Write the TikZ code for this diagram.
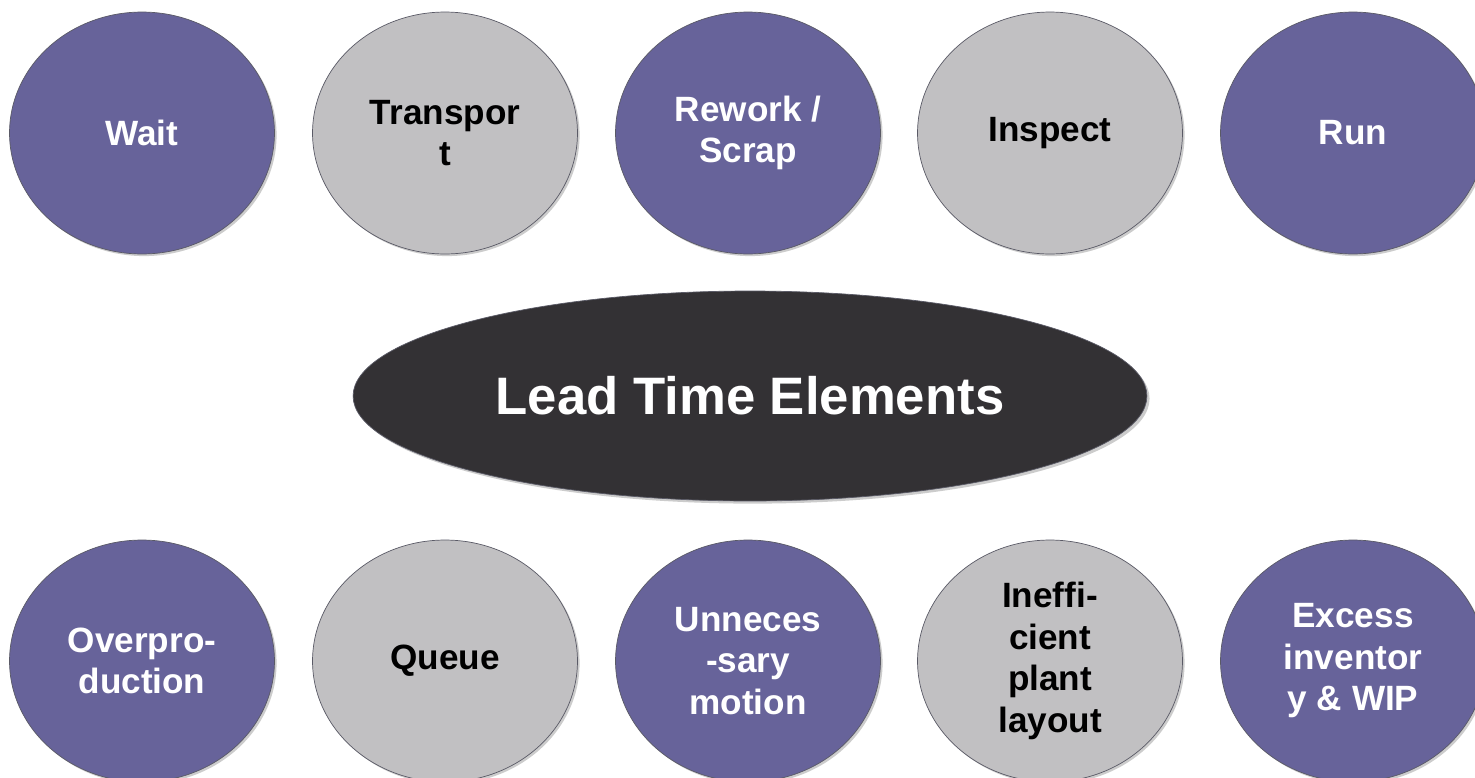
\documentclass[tikz,border=0pt]{standalone}
\usepackage{fontspec}
\setmainfont{Liberation Sans}
\usetikzlibrary{shapes.geometric,shadows}
\definecolor{purp}{HTML}{67639A}
\definecolor{grayc}{HTML}{C1C0C2}
\definecolor{darkc}{HTML}{333134}
\definecolor{edgec}{HTML}{5A5A66}
\tikzset{
  blob/.style={ellipse, draw=edgec, line width=0.4pt, minimum width=5.3cm, minimum height=4.84cm, inner sep=0pt, align=center,
    font=\bfseries\fontsize{20}{23.6}\selectfont,
    drop shadow={shadow xshift=1.2pt, shadow yshift=-1.2pt, opacity=0.4, fill=gray}},
  purpblob/.style={blob, fill=purp, text=white},
  grayblob/.style={blob, fill=grayc, text=black},
  centre/.style={ellipse, draw=edgec, line width=0.4pt, fill=darkc, text=white, minimum width=15.88cm, minimum height=4.2cm, inner sep=0pt,
    font=\bfseries\fontsize{30}{36}\selectfont,
    drop shadow={shadow xshift=1.5pt, shadow yshift=-1.5pt, opacity=0.4, fill=gray}}
}
\begin{document}
\begin{tikzpicture}[x=0.02cm,y=-0.02cm]
\useasboundingbox (0,0) rectangle (1475,778);
\clip (0,0) rectangle (1475,778);
\fill[white] (0,0) rectangle (1475,778);
\node[purpblob] (wait) at (142,133) {Wait};
\node[grayblob] (transport) at (445,133) {Transpor\\t};
\node[purpblob] (rework) at (748,133) {Rework /\\Scrap};
\node[grayblob] (inspect) at (1050,133) {Inspect};
\node[purpblob] (run) at (1353,133) {Run};
\node[centre] (lead) at (750,396) {Lead Time Elements};
\node[purpblob] (over) at (142,661) {Overpro-\\duction};
\node[grayblob] (queue) at (445,661) {Queue};
\node[purpblob] (motion) at (748,661) {Unneces\\-sary\\motion};
\node[grayblob] (layout) at (1050,661) {Ineffi-\\cient\\plant\\layout};
\node[purpblob] (excess) at (1353,661) {Excess\\inventor\\y \& WIP};
\end{tikzpicture}
\end{document}
